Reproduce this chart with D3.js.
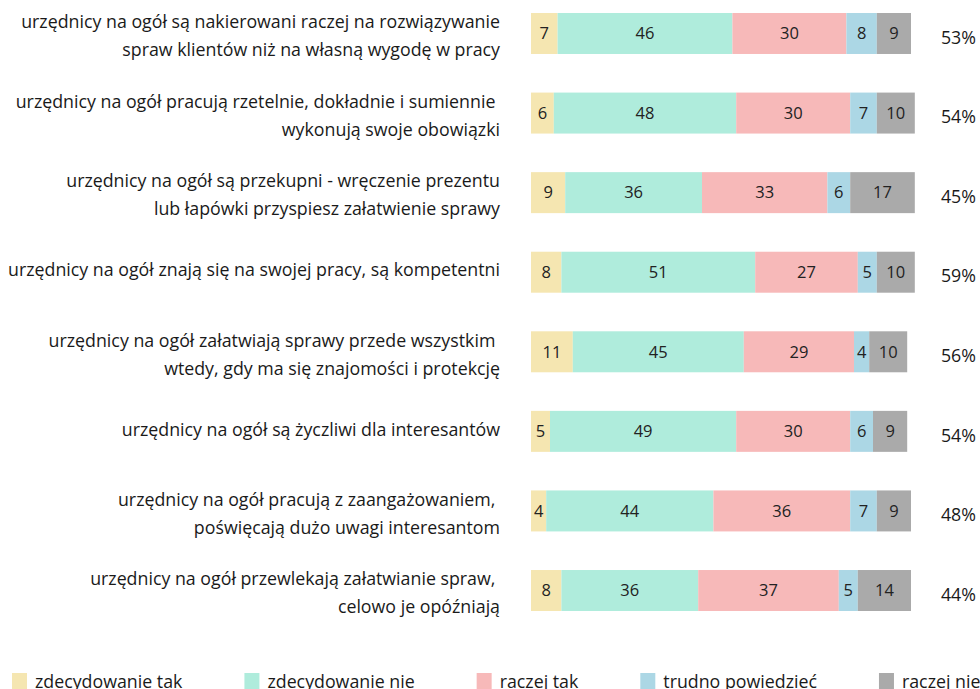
<!DOCTYPE html>
<html>
<head>
<meta charset="utf-8">
<script src="https://cdn.jsdelivr.net/npm/d3@7"></script>
<style>
  body { margin: 0; background: #fff; }
  svg { display: block; font-family: "Open Sans", "Noto Sans", sans-serif; }
  text { white-space: pre; }
</style>
</head>
<body>
<svg width="980" height="689"></svg>
<script>
var labels = [
  ["urzędnicy na ogół są nakierowani raczej na rozwiązywanie", "spraw klientów niż na własną wygodę w pracy"],
  ["urzędnicy na ogół pracują rzetelnie, dokładnie i sumiennie ", "wykonują swoje obowiązki"],
  ["urzędnicy na ogół są przekupni - wręczenie prezentu", "lub łapówki przyspiesz załatwienie sprawy"],
  ["urzędnicy na ogół znają się na swojej pracy, są kompetentni"],
  ["urzędnicy na ogół załatwiają sprawy przede wszystkim ", "wtedy, gdy ma się znajomości i protekcję"],
  ["urzędnicy na ogół są życzliwi dla interesantów"],
  ["urzędnicy na ogół pracują z zaangażowaniem, ", "poświęcają dużo uwagi interesantom"],
  ["urzędnicy na ogół przewlekają załatwianie spraw, ", "celowo je opóźniają"]
];
var series = ["zdecydowanie tak", "zdecydowanie nie", "raczej tak", "trudno powiedzieć", "raczej nie"];
var colors = ["#f5e6b1", "#afecdc", "#f7b9b9", "#acd7e5", "#aaaaaa"];
var values = [
  [7, 46, 30, 8, 9],
  [6, 48, 30, 7, 10],
  [9, 36, 33, 6, 17],
  [8, 51, 27, 5, 10],
  [11, 45, 29, 4, 10],
  [5, 49, 30, 6, 9],
  [4, 44, 36, 7, 9],
  [8, 36, 37, 5, 14]
];
var totals = ["53%", "54%", "45%", "59%", "56%", "54%", "48%", "44%"];

var svg = d3.select("svg");

var x = d3.scaleLinear().domain([0, 100]).range([531, 911]);
var y = d3.scaleBand()
    .domain(d3.range(values.length))
    .range([13, 611])
    .paddingInner(0.485)
    .paddingOuter(0);

var color = d3.scaleOrdinal().domain(d3.range(series.length)).range(colors);

var rows = svg.selectAll("g.row")
  .data(values)
  .enter().append("g")
    .attr("class", "row")
    .attr("transform", function(d, i) { return "translate(0," + y(i) + ")"; });

var segs = rows.selectAll("g.seg")
  .data(function(d) {
    var acc = 0;
    return d.map(function(v, k) { var s = {k: k, v: v, x0: acc}; acc += v; return s; });
  })
  .enter().append("g").attr("class", "seg");

segs.append("rect")
    .attr("x", function(d) { return x(d.x0); })
    .attr("width", function(d) { return x(d.x0 + d.v) - x(d.x0); })
    .attr("height", y.bandwidth())
    .attr("fill", function(d) { return color(d.k); });

segs.append("text")
    .attr("x", function(d) { return x(d.x0 + d.v / 2); })
    .attr("y", y.bandwidth() / 2)
    .attr("dy", "0.35em")
    .attr("text-anchor", "middle")
    .attr("font-size", 16.5)
    .attr("fill", "#222")
    .text(function(d) { return d.v; });

// category labels
rows.append("text")
    .attr("text-anchor", "end")
    .attr("font-size", 17.8)
    .attr("fill", "#1a1a1a")
  .selectAll("tspan")
  .data(function(d, i) { return labels[i]; })
  .enter().append("tspan")
    .attr("x", 500)
    .attr("y", function(d, j, nodes) {
      var c = y.bandwidth() / 2;
      if (nodes.length === 1) return c - 2;
      return j === 0 ? c - 11.5 : c + 16.5;
    })
    .attr("dy", "0.35em")
    .text(function(d) { return d; });

// totals
rows.append("text")
    .attr("x", 976)
    .attr("y", y.bandwidth() / 2 + 4)
    .attr("dy", "0.35em")
    .attr("text-anchor", "end")
    .attr("font-size", 17.8)
    .attr("fill", "#1a1a1a")
    .text(function(d, i) { return totals[i]; });

// legend
var legend = svg.append("g").attr("class", "legend");
var lx = 12;
series.forEach(function(name, k) {
  var item = legend.append("g").attr("transform", "translate(" + lx + ",673)");
  item.append("rect")
      .attr("width", 15)
      .attr("height", 16)
      .attr("fill", color(k));
  var t = item.append("text")
      .attr("x", 23)
      .attr("y", 9)
      .attr("dy", "0.35em")
      .attr("font-size", 17.8)
      .attr("fill", "#1a1a1a")
      .text(name);
  lx += 23 + t.node().getComputedTextLength() + 62;
});
</script>
</body>
</html>
